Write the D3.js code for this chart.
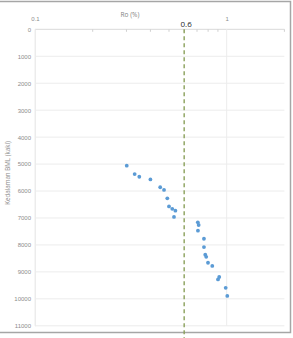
<!DOCTYPE html>
<html>
<head>
<meta charset="utf-8">
<script src="https://cdn.jsdelivr.net/npm/d3@7"></script>
<style>
  body { margin: 0; background: #fff; }
  svg { display: block; font-family: "Open Sans", "Liberation Sans", sans-serif; }
</style>
</head>
<body>
<script>
const svgWidth = 293; //Width of SVG.
const svgHeight = 338; //Height of SVG.

//Vitrinite reflectance (Ro %) vs depth (ft below mean sea level).
const roValues = [0.301, 0.331, 0.350, 0.400, 0.450, 0.471, 0.490, 0.500, 0.520, 0.540, 0.531,
                  0.707, 0.714, 0.708, 0.761, 0.761, 0.773, 0.782, 0.799, 0.841, 0.914, 0.901, 0.988, 1.007];
const depthValues = [5060, 5370, 5470, 5570, 5860, 5960, 6270, 6570, 6660, 6730, 6960,
                     7160, 7260, 7470, 7770, 8080, 8360, 8440, 8660, 8780, 9190, 9280, 9590, 9890];

const yTicks = [0, 1000, 2000, 3000, 4000, 5000, 6000, 7000, 8000, 9000, 10000, 11000];
const xMajorTicks = [0.1, 1];
const xMinorTicks = [0.2, 0.3, 0.4, 0.5, 0.6, 0.7, 0.8, 0.9, 2];
const cutoff = 0.6; //Dashed line value.

let xScale = d3.scaleLog().domain([0.1, 2]).range([35, 284.4]);
let yScale = d3.scaleLinear().domain([0, 11000]).range([29.3, 325.8]);

let svg = d3.select("body").append("svg")
            .attr("width", svgWidth)
            .attr("height", svgHeight);

//Chart border.
svg.append("path")
   .attr("d", "M0,1.5 H290.5 V332.5 H0")
   .attr("fill", "none")
   .attr("stroke", "#a6a6a6")
   .attr("stroke-width", 1.5);

//Horizontal gridlines.
svg.append("g").selectAll("line")
   .data(yTicks)
   .enter().append("line")
   .attr("x1", xScale(0.1)).attr("x2", xScale(2))
   .attr("y1", d => yScale(d)).attr("y2", d => yScale(d))
   .attr("stroke", (d) => d === 0 ? "#d9d9d9" : "#ececec")
   .attr("stroke-width", 1);

//Vertical gridlines at major ticks.
svg.append("g").selectAll("line")
   .data(xMajorTicks)
   .enter().append("line")
   .attr("x1", d => xScale(d)).attr("x2", d => xScale(d))
   .attr("y1", yScale(0)).attr("y2", yScale(11000))
   .attr("stroke", "#ececec");

//Minor tick marks on top axis.
svg.append("g").selectAll("line")
   .data(xMinorTicks)
   .enter().append("line")
   .attr("x1", d => xScale(d)).attr("x2", d => xScale(d))
   .attr("y1", yScale(0)).attr("y2", yScale(0) + 2.5)
   .attr("stroke", "#d0d0d0");

//Y-axis labels.
let yAxis = d3.axisLeft(yScale).tickValues(yTicks).tickSize(0).tickPadding(4).tickFormat(d => String(d));
let yG = svg.append("g").attr("transform", "translate(" + xScale(0.1) + ",0)").call(yAxis);
yG.select(".domain").attr("stroke", "#ececec");
yG.selectAll("text").attr("fill", "#8c8c8c").style("font-size", "6px");

//X-axis labels (top).
let xAxis = d3.axisTop(xScale).tickValues(xMajorTicks).tickSize(0).tickPadding(8).tickFormat(d => String(d));
let xG = svg.append("g").attr("transform", "translate(0," + yScale(0) + ")").call(xAxis);
xG.select(".domain").remove();
xG.selectAll("text").attr("fill", "#8c8c8c").style("font-size", "6px");

//Axis titles.
svg.append("text")
   .attr("x", 130).attr("y", 17)
   .attr("text-anchor", "middle")
   .attr("fill", "#7f7f7f")
   .style("font-size", "6.5px")
   .text("Ro (%)");

svg.append("text")
   .attr("transform", "translate(9.5,173) rotate(-90)")
   .attr("text-anchor", "middle")
   .attr("fill", "#8c8c8c")
   .style("font-size", "6.2px")
   .text("Kedalaman BML (kaki)");

//Cut-off line.
svg.append("line")
   .attr("x1", xScale(cutoff)).attr("x2", xScale(cutoff))
   .attr("y1", yScale(0)).attr("y2", svgHeight)
   .attr("stroke", "#8aa05a")
   .attr("stroke-width", 1.4)
   .attr("stroke-dasharray", "4,3");

svg.append("text")
   .attr("x", xScale(cutoff) + 2).attr("y", 27)
   .attr("text-anchor", "middle")
   .attr("fill", "#262626")
   .style("font-size", "8px")
   .text("0.6");

//Scatter dots.
svg.append("g").selectAll("circle")
   .data(roValues)
   .enter().append("circle")
   .attr("cx", (d) => xScale(d))
   .attr("cy", (d, i) => yScale(depthValues[i]))
   .attr("r", 1.9)
   .attr("fill", "#5b9bd5");
</script>
</body>
</html>
